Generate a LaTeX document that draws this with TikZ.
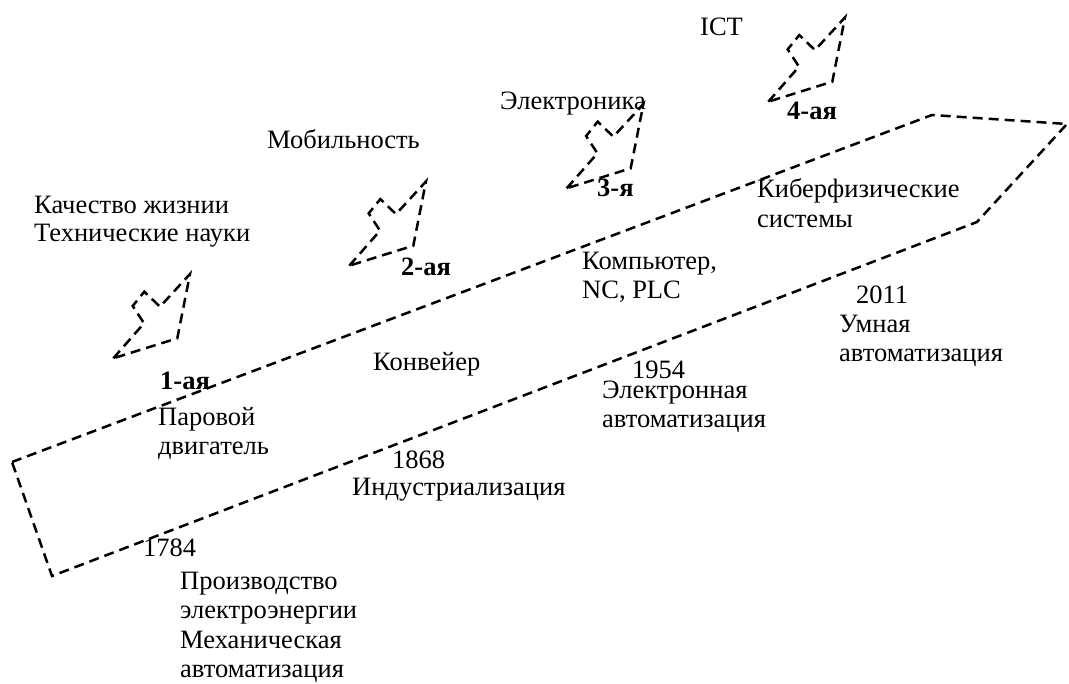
\documentclass[tikz,border=0pt]{standalone}
\usepackage{fontspec}
\setmainfont{Liberation Serif}
\begin{document}
\begin{tikzpicture}[x=1pt,y=-1pt,
  dashline/.style={draw=black,line width=2.5pt,dash pattern=on 10pt off 6pt,line join=miter},
  lbl/.style={anchor=base west,inner sep=0pt,font=\fontsize{26.5}{30}\selectfont},
  gen/.style={lbl,font=\fontsize{26.5}{30}\selectfont\bfseries},
  gen arrow/.pic={
    \draw[dashline] (0,0) -- (30.7,-35) -- (19.4,-52.3) -- (31,-66.6)
      -- (46.7,-51.6) -- (76.7,-84.3) -- (64,-20) -- cycle;
  }]
\useasboundingbox (0,0) rectangle (1069,684);

% the rising band of the four stages
\draw[dashline] (12,462) -- (932,115) -- (1067,124) -- (977,222) -- (52,576) -- cycle;

% stage arrows
\pic at (113.3,358.3) {gen arrow};
\pic at (349.3,265.7) {gen arrow};
\pic at (566.7,188.3) {gen arrow};
\pic at (768.3,101.7) {gen arrow};

% stage numbers
\node[gen] (g1) at (160,390) {1-ая};
\node[gen] (g2) at (401,276) {2-ая};
\node[gen] (g3) at (597,197) {3-я};
\node[gen] (g4) at (787,120) {4-ая};

% drivers above the band
\node[lbl] (d1a) at (34,214) {Качество жизнии};
\node[lbl] (d1b) at (34,242) {Технические науки};
\node[lbl] (d2) at (267,149) {Мобильность};
\node[lbl] (d3) at (500,110) {Электроника};
\node[lbl] (d4) at (700,36) {ICT};

% technologies inside the band
\node[lbl] (t1a) at (158,426) {Паровой};
\node[lbl] (t1b) at (158,455) {двигатель};
\node[lbl] (t2) at (373,371) {Конвейер};
\node[lbl] (t3a) at (582,270) {Компьютер,};
\node[lbl] (t3b) at (582,299) {NC, PLC};
\node[lbl] (t4a) at (757,198) {Киберфизические};
\node[lbl] (t4b) at (757,228) {системы};

% years and automation stages below
\node[lbl] (y1) at (143,557) {1784};
\node[lbl] (s1a) at (180,589) {Производство};
\node[lbl] (s1b) at (180,618.5) {электроэнергии};
\node[lbl] (s1c) at (180,648) {Механическая};
\node[lbl] (s1d) at (180,677) {автоматизация};
\node[lbl] (y2) at (392,469) {1868};
\node[lbl] (s2) at (352,496) {Индустриализация};
\node[lbl] (y3) at (632,379) {1954};
\node[lbl] (s3a) at (602,399) {Электронная};
\node[lbl] (s3b) at (602,428) {автоматизация};
\node[lbl] (y4) at (856,304) {2011};
\node[lbl] (s4a) at (839,333) {Умная};
\node[lbl] (s4b) at (839,362) {автоматизация};
\end{tikzpicture}
\end{document}
